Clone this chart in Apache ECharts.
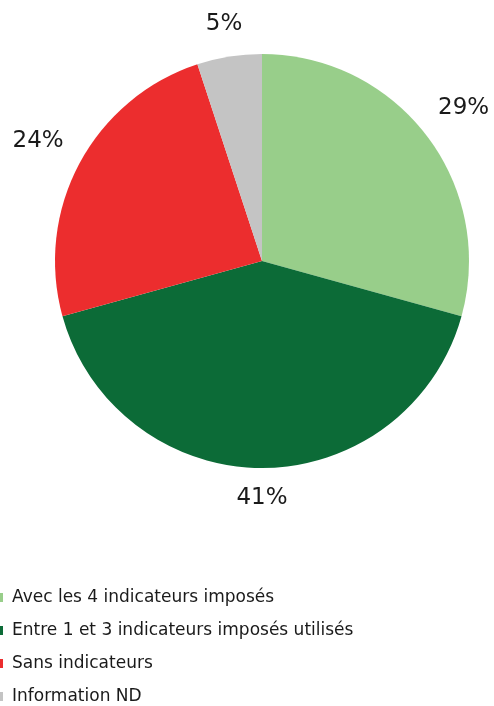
<!DOCTYPE html>
<html>
<head>
<meta charset="utf-8">
<style>
  html, body { margin: 0; padding: 0; background: #ffffff; }
  #chart { width: 494px; height: 706px; }
</style>
<script src="https://cdn.jsdelivr.net/npm/echarts@6/dist/echarts.min.js"></script>
</head>
<body>
<div id="chart"></div>
<script>
// Répartition des projets selon l'usage des indicateurs imposés (%)
const categories = [
  'Avec les 4 indicateurs imposés',
  'Entre 1 et 3 indicateurs imposés utilisés',
  'Sans indicateurs',
  'Information ND'
];
const values = [29, 41, 24, 5];
const colors = ['#98ce8a', '#0c6b37', '#ec2d2e', '#c4c4c4'];

// pie geometry
const CX = 262, CY = 261, R = 207;
const LABEL_GAP = 19; // space between the rim and the nearest edge of a label

const chart = echarts.init(document.getElementById('chart'), null, { renderer: 'canvas' });

chart.setOption({
  animation: false,
  backgroundColor: '#ffffff',
  legend: {
    orient: 'vertical',
    left: -5,
    top: 589,
    padding: 0,
    itemWidth: 8,
    itemHeight: 9,
    itemGap: 16,
    icon: 'rect',
    data: categories,
    textStyle: {
      fontFamily: 'DejaVu Sans',
      fontSize: 17,
      color: '#1a1a1a',
      lineHeight: 17,
      padding: [0, 0, 0, 4]
    }
  },
  series: [
    {
      type: 'pie',
      center: [CX, CY],
      radius: [0, R],
      startAngle: 90,
      clockwise: true,
      silent: true,
      label: {
        show: true,
        position: 'inside',
        formatter: p => p.value + '%',
        fontFamily: 'DejaVu Sans',
        fontSize: 23,
        color: '#1a1a1a'
      },
      labelLine: { show: false },
      // push each label out along its slice's bisector until its box clears the rim
      labelLayout: function (p) {
        const lr = p.labelRect;
        const lx = lr.x + lr.width / 2, ly = lr.y + lr.height / 2;
        const dx = lx - CX, dy = ly - CY;
        const len = Math.sqrt(dx * dx + dy * dy) || 1;
        const ux = dx / len, uy = dy / len;
        const d = R + LABEL_GAP + Math.abs(ux) * lr.width / 2 + Math.abs(uy) * lr.height / 2;
        return { x: CX + ux * d, y: CY + uy * d };
      },
      data: categories.map((name, i) => ({
        name: name,
        value: values[i],
        itemStyle: { color: colors[i] }
      }))
    }
  ]
});
</script>
</body>
</html>
